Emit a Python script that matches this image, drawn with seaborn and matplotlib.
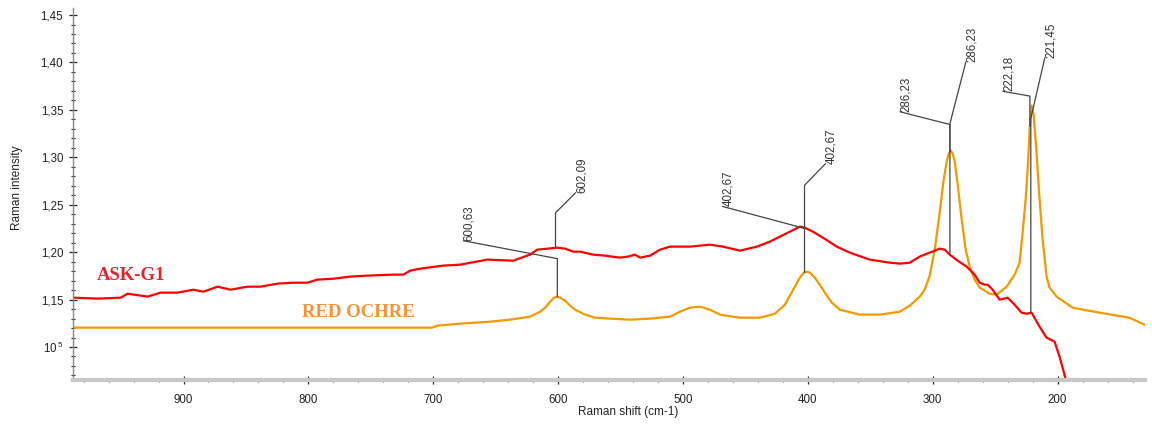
import numpy as np
import pandas as pd
import matplotlib
matplotlib.use("Agg")
import matplotlib.pyplot as plt
from matplotlib.ticker import FixedLocator, FixedFormatter, MultipleLocator
import seaborn as sns

# ---------------- data ----------------
red_shift = [988.0, 968.8, 950.4, 944.8, 928.8, 918.4, 904.8, 892.0, 884.0, 872.8,
             862.4, 848.8, 838.4, 824.8, 812.0, 800.8, 792.8, 780.0, 766.4, 752.8,
             732.0, 724.0, 718.4, 710.4, 692.0, 678.4, 656.8, 636.0, 622.4, 616.8,
             600.8, 594.4, 588.0, 582.4, 572.0, 562.4, 556.8, 550.4, 544.0, 538.4,
             534.4, 526.4, 518.4, 510.4, 494.4, 478.4, 468.0, 454.4, 440.8, 430.4,
             414.4, 406.4, 402.4, 396.0, 388.0, 376.8, 366.4, 350.4, 334.4, 326.4,
             318.4, 310.4, 302.4, 294.4, 290.4, 286.4, 280.0, 272.8, 266.4, 262.4,
             258.4, 256.0, 252.0, 246.4, 243.2, 240.0, 234.4, 228.8, 224.8, 220.8,
             217.6, 214.4, 208.8, 202.4, 198.4, 193.6, 191.2]
red_int = [1.1520, 1.1510, 1.1520, 1.1562, 1.1531, 1.1573, 1.1573, 1.1604, 1.1583, 1.1636,
           1.1604, 1.1636, 1.1636, 1.1668, 1.1678, 1.1678, 1.1710, 1.1720, 1.1742, 1.1752,
           1.1763, 1.1763, 1.1805, 1.1826, 1.1858, 1.1868, 1.1921, 1.1910, 1.1974, 1.2026,
           1.2047, 1.2037, 1.2005, 1.2005, 1.1974, 1.1963, 1.1953, 1.1942, 1.1953, 1.1974,
           1.1942, 1.1963, 1.2026, 1.2058, 1.2058, 1.2079, 1.2058, 1.2016, 1.2058, 1.2111,
           1.2216, 1.2269, 1.2258, 1.2216, 1.2153, 1.2058, 1.1995, 1.1921, 1.1889, 1.1879,
           1.1889, 1.1953, 1.1995, 1.2037, 1.2026, 1.1974, 1.1910, 1.1847, 1.1763, 1.1678,
           1.1657, 1.1657, 1.1604, 1.1499, 1.1509, 1.1520, 1.1446, 1.1362, 1.1351, 1.1362,
           1.1288, 1.1214, 1.1098, 1.1056, 1.0898, 1.0666, 1.0550]

ochre_shift = [988.0, 700.8, 696.8, 678.4, 654.4, 638.4, 622.4, 614.4, 610.4, 606.4,
               603.2, 600.8, 598.4, 594.4, 590.4, 586.4, 578.4, 570.4, 558.4, 542.4,
               526.4, 510.4, 502.4, 494.4, 486.4, 478.4, 470.4, 454.4, 438.4, 426.4,
               418.4, 414.4, 410.4, 406.4, 403.2, 400.8, 398.4, 394.4, 390.4, 386.4,
               380.8, 374.4, 358.4, 342.4, 326.4, 318.4, 310.4, 306.4, 302.4, 298.4,
               294.4, 291.2, 288.8, 287.2, 285.6, 284.0, 282.4, 280.0, 276.8, 273.6,
               270.4, 266.4, 262.4, 254.4, 248.8, 240.8, 234.4, 230.4, 228.0, 225.6,
               224.0, 222.4, 220.8, 219.2, 217.6, 216.0, 214.4, 212.0, 208.8, 206.4,
               200.8, 188.0, 166.4, 142.4, 130.4]
ochre_int = [1.1204, 1.1204, 1.1225, 1.1246, 1.1267, 1.1288, 1.1320, 1.1372, 1.1415, 1.1478,
             1.1520, 1.1531, 1.1520, 1.1488, 1.1436, 1.1393, 1.1341, 1.1309, 1.1299, 1.1288,
             1.1299, 1.1320, 1.1372, 1.1415, 1.1425, 1.1393, 1.1341, 1.1309, 1.1309, 1.1351,
             1.1446, 1.1541, 1.1636, 1.1731, 1.1784, 1.1794, 1.1784, 1.1731, 1.1657, 1.1573,
             1.1467, 1.1393, 1.1341, 1.1341, 1.1372, 1.1436, 1.1531, 1.1604, 1.1752, 1.2026,
             1.2417, 1.2765, 1.2955, 1.3039, 1.3071, 1.3039, 1.2955, 1.2712, 1.2343, 1.2026,
             1.1847, 1.1710, 1.1626, 1.1562, 1.1552, 1.1636, 1.1763, 1.1889, 1.2206, 1.2554,
             1.2870, 1.3292, 1.3545, 1.3450, 1.3187, 1.2870, 1.2554, 1.2132, 1.1742, 1.1626,
             1.1531, 1.1415, 1.1362, 1.1309, 1.1235]

series_names = ["ASK-G1", "RED OCHRE"]

x_ticks = [900, 800, 700, 600, 500, 400, 300, 200]
x_tick_labels = ["900", "800", "700", "600", "500", "400", "300", "200"]
y_ticks = [1.10, 1.15, 1.20, 1.25, 1.30, 1.35, 1.40, 1.45]
y_tick_labels = [r"$\mathregular{10^{\,5}}$", "1,15", "1,20", "1,25", "1,30", "1,35", "1,40", "1,45"]

peak_labels = ["600,63", "602,09", "402,67", "402,67", "286,23", "286,23", "222,18", "221,45"]
peak_shift = [600.63, 602.09, 402.67, 402.67, 286.23, 286.23, 222.18, 221.45]
peak_series = ["RED OCHRE", "ASK-G1", "RED OCHRE", "ASK-G1",
               "RED OCHRE", "ASK-G1", "RED OCHRE", "ASK-G1"]

# ---------------- layout / style ----------------
RED = "#FF0000"
ORANGE = "#F39A00"
# label offsets (pixels) from the curve point and leader angle
label_offsets = [(-94, 56), (20, 55), (-82, 66), (21, 64), (-50, 40), (16, 193), (-27, 35), (14, 255)]
label_angles = [-10.8, 45, -15, 46, -14.3, 75.5, -10, 77]

sns.set_style("ticks")
plt.rcParams["font.family"] = ["Liberation Sans", "DejaVu Sans"]
plt.rcParams["mathtext.fontset"] = "custom"
plt.rcParams["mathtext.rm"] = "Liberation Sans"

W, H = 1152, 428
fig = plt.figure(figsize=(W / 100, H / 100), dpi=100)
ax = fig.add_axes([73 / W, 1 - 380 / H, 1072 / W, 372 / H])

df = pd.concat([
    pd.DataFrame({"shift": red_shift, "intensity": red_int, "sample": series_names[0]}),
    pd.DataFrame({"shift": ochre_shift, "intensity": ochre_int, "sample": series_names[1]}),
], ignore_index=True)

sns.lineplot(data=df[df["sample"] == "RED OCHRE"], x="shift", y="intensity",
             color=ORANGE, lw=1.6, sort=False, estimator=None, ax=ax, legend=False)
sns.lineplot(data=df[df["sample"] == "ASK-G1"], x="shift", y="intensity",
             color=RED, lw=1.6, sort=False, estimator=None, ax=ax, legend=False)

ax.set_xlim(988.5, 130)
ax.set_ylim(1.0652, 1.4574)

ax.xaxis.set_major_locator(FixedLocator(x_ticks))
ax.xaxis.set_major_formatter(FixedFormatter(x_tick_labels))
ax.xaxis.set_minor_locator(MultipleLocator(20))
ax.yaxis.set_major_locator(FixedLocator(y_ticks))
ax.yaxis.set_major_formatter(FixedFormatter(y_tick_labels))
ax.yaxis.set_minor_locator(MultipleLocator(0.01))

ax.tick_params(which="both", bottom=True, left=True, top=False, right=False,
               direction="inout", colors="#222222", labelsize=8.3, labelcolor="#222222")
ax.tick_params(which="major", length=6, width=0.9, pad=4)
ax.tick_params(which="minor", length=3, width=0.8)
ax.tick_params(axis="x", which="major", pad=7)

for s in ["top", "right"]:
    ax.spines[s].set_visible(False)
ax.spines["left"].set_color("#888888")
ax.spines["left"].set_linewidth(1.0)
ax.spines["bottom"].set_color("#C8C8C8")
ax.spines["bottom"].set_linewidth(3.0)

ax.set_xlabel("Raman shift (cm-1)", fontsize=8.5, color="#222222")
ax.set_ylabel("Raman intensity", fontsize=8.5, color="#222222")
ax.xaxis.set_label_coords((628 - 73) / 1072, (380 - 406) / 372)
ax.yaxis.set_label_coords((23 - 73) / 1072, (380 - 188) / 372)

# sample names
ax.text(969.6, 1.1752, series_names[0], color="#E8222B", fontsize=13.5, fontweight="bold",
        family="Liberation Serif", ha="left", va="center")
ax.text(804.8, 1.1362, series_names[1], color="#F7923A", fontsize=13.5, fontweight="bold",
        family="Liberation Serif", ha="left", va="center")

# peak annotations
curves = {"ASK-G1": (red_shift, red_int), "RED OCHRE": (ochre_shift, ochre_int)}
for lab, px, ser, off, ang in zip(peak_labels, peak_shift, peak_series, label_offsets, label_angles):
    xs, ys = curves[ser]
    py = float(np.interp(px, xs[::-1], ys[::-1]))
    ax.annotate(lab, xy=(px, py), xytext=off, textcoords="offset pixels",
                rotation=90, ha="left", va="bottom", fontsize=8.3, color="#333333",
                arrowprops=dict(arrowstyle="-", color="#444444", lw=0.9,
                                connectionstyle=f"angle,angleA={ang},angleB=90,rad=0",
                                relpos=(0, 0), shrinkA=0, shrinkB=0, patchA=None))

fig.savefig("out.png", dpi=100)
